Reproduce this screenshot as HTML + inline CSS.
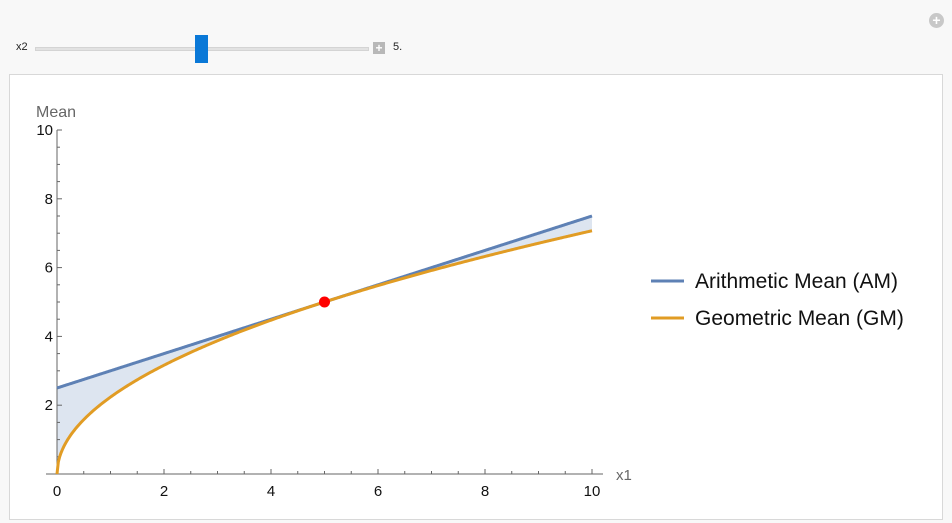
<!DOCTYPE html>
<html><head><meta charset="utf-8"><style>
body{margin:0;width:952px;height:523px;background:#f8f8f8;font-family:"Liberation Sans",sans-serif;overflow:hidden;position:relative}
.abs{position:absolute}
</style></head><body>
<div class="abs" style="left:929px;top:13px;width:15px;height:15px;border-radius:50%;background:#c8c8c8;color:#fff;font-size:14px;line-height:15px;text-align:center;font-weight:bold">+</div>
<div class="abs" style="left:16px;top:41px;font-size:11px;color:#222">x2</div>
<div class="abs" style="left:35px;top:47px;width:334px;height:4px;background:#e2e2e2;border:1px solid #d4d4d4;box-sizing:border-box"></div>
<div class="abs" style="left:195px;top:35px;width:13px;height:28px;background:#0a78d7"></div>
<div class="abs" style="left:373px;top:42px;width:12px;height:12px;background:#b8b8b8;color:#fff;font-size:12px;line-height:12px;text-align:center;font-weight:bold">+</div>
<div class="abs" style="left:393px;top:41px;font-size:11px;color:#222">5.</div>
<div class="abs" style="left:9px;top:74px;width:934px;height:446px;background:#fff;border:1px solid #d8d8d8;box-sizing:border-box"></div>
<svg class="abs" style="left:0;top:0" width="952" height="523" id="chart"></svg>
<script>
const xTicks=[0,2,4,6,8,10];
const yTicks=[2,4,6,8,10];
const x2Value=5;
const xDomain=[0,10];
const seriesNames=["Arithmetic Mean (AM)","Geometric Mean (GM)"];
const seriesColors=["#5e81b5","#e19c24"];
const X=v=>57+v*53.5, Y=v=>474-v*34.4;
const ns="http://www.w3.org/2000/svg", svg=document.getElementById('chart');
function mk(t,a,p){const e=document.createElementNS(ns,t);for(const k in a)e.setAttribute(k,a[k]);(p||svg).appendChild(e);return e;}
const am=x=>(x+x2Value)/2, gm=x=>Math.sqrt(x*x2Value);
let amP=[],gmP=[];
for(let i=0;i<=400;i++){const x=xDomain[0]+(xDomain[1]-xDomain[0])*i/400;amP.push([X(x),Y(am(x))]);gmP.push([X(x),Y(gm(x))]);}
const fill=mk('path',{d:'M'+amP.map(p=>p.join(',')).join('L')+'L'+gmP.slice().reverse().map(p=>p.join(',')).join('L')+'Z',fill:'#dde5f0',stroke:'none'});


const ax=mk('line',{x1:46,y1:474,x2:603,y2:474,stroke:'#666','stroke-width':1});

const ay=mk('line',{x1:57,y1:474,x2:57,y2:130,stroke:'#666','stroke-width':1});

for(let v=0;v<=10.01;v+=0.5){const maj=Math.abs(v-Math.round(v/2)*2)<1e-6;
 mk('line',{x1:X(v),y1:474,x2:X(v),y2:474-(maj?5:3),stroke:'#666'});
 if(v>0)mk('line',{x1:57,y1:Y(v),x2:57+(maj?5:3),y2:Y(v),stroke:'#666'});}
xTicks.forEach(v=>{const t=mk('text',{x:X(v),y:496,'text-anchor':'middle','font-size':15,fill:'#111'});t.textContent=v;
 });
yTicks.forEach(v=>{const t=mk('text',{x:53,y:Y(v)+5,'text-anchor':'end','font-size':15,fill:'#111'});t.textContent=v;
 });
const yl=mk('text',{x:36,y:117,'font-size':16,fill:'#666'});yl.textContent='Mean';

const xl=mk('text',{x:616,y:480,'font-size':15,fill:'#666'});xl.textContent='x1';

const l1=mk('path',{d:'M'+amP.map(p=>p.join(',')).join('L'),fill:'none',stroke:seriesColors[0],'stroke-width':3});

const l2=mk('path',{d:'M'+gmP.map(p=>p.join(',')).join('L'),fill:'none',stroke:seriesColors[1],'stroke-width':3});

const dot=mk('circle',{cx:X(x2Value),cy:Y(x2Value),r:5.5,fill:'#f00'});

seriesNames.forEach((n,i)=>{const y=281+i*37;
 const ln=mk('line',{x1:651,y1:y,x2:684,y2:y,stroke:seriesColors[i],'stroke-width':3});
 
 const t=mk('text',{x:695,y:y+7,'font-size':21,fill:'#111'});t.textContent=n;
 });
</script>
</body></html>
